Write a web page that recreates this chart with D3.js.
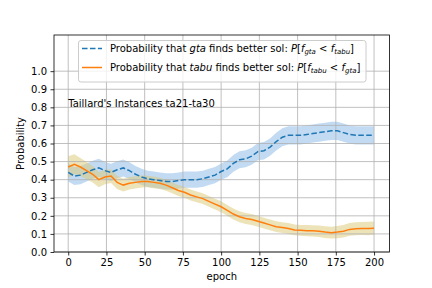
<!DOCTYPE html>
<html><head><meta charset="utf-8">
<script src="https://cdn.jsdelivr.net/npm/d3@7"></script>
<style>body{margin:0;background:#fff}svg{display:block;font-family:"DejaVu Sans",sans-serif}</style>
</head><body><div id="c"></div>
<script>
const epochs = [0,4,8,12,16,20,24,28,32,36,40,44,48,52,56,60,64,68,72,76,80,84,88,92,96,100,104,108,112,116,120,124,128,132,136,140,144,148,152,156,160,164,168,172,176,180,184,188,192,196,200];
const gtaMean = [0.44,0.42,0.425,0.44,0.455,0.465,0.45,0.44,0.455,0.465,0.45,0.43,0.415,0.405,0.40,0.395,0.39,0.39,0.395,0.40,0.40,0.40,0.405,0.415,0.425,0.445,0.46,0.49,0.51,0.515,0.53,0.555,0.56,0.58,0.61,0.635,0.645,0.645,0.645,0.65,0.655,0.66,0.665,0.67,0.67,0.66,0.65,0.645,0.645,0.645,0.645];
const gtaSpread = [0.05,0.05,0.05,0.05,0.05,0.05,0.048,0.048,0.047,0.047,0.046,0.045,0.045,0.045,0.045,0.045,0.045,0.045,0.045,0.045,0.045,0.045,0.045,0.045,0.045,0.045,0.046,0.046,0.047,0.047,0.047,0.048,0.048,0.048,0.049,0.05,0.05,0.05,0.05,0.05,0.05,0.05,0.05,0.05,0.05,0.05,0.05,0.05,0.05,0.05,0.05];
const tabuMean = [0.47,0.485,0.47,0.45,0.43,0.40,0.415,0.42,0.385,0.37,0.38,0.385,0.39,0.39,0.385,0.38,0.37,0.355,0.34,0.33,0.315,0.305,0.295,0.28,0.265,0.25,0.23,0.21,0.195,0.185,0.18,0.17,0.16,0.15,0.14,0.135,0.13,0.122,0.12,0.118,0.117,0.115,0.11,0.107,0.11,0.115,0.125,0.128,0.13,0.13,0.132];
const tabuSpread = [0.06,0.055,0.05,0.048,0.045,0.042,0.04,0.038,0.036,0.035,0.035,0.034,0.033,0.032,0.032,0.031,0.031,0.03,0.03,0.03,0.03,0.03,0.03,0.03,0.03,0.03,0.03,0.03,0.03,0.03,0.03,0.03,0.03,0.03,0.03,0.03,0.03,0.03,0.03,0.031,0.031,0.032,0.032,0.033,0.034,0.035,0.035,0.036,0.036,0.037,0.037];
const xTicks = [0,25,50,75,100,125,150,175,200];
const yTicks = [0,0.1,0.2,0.3,0.4,0.5,0.6,0.7,0.8,0.9,1.0];

const W=432,H=288;
const L=54,R=389.5,T=35,B=252;
const svg=d3.select("#c").append("svg").attr("width",W).attr("height",H);
const x=d3.scaleLinear().domain([-9.3,210.1]).range([L,R]);
const y=d3.scaleLinear().domain([0,1.2]).range([B,T]);

const dg=epochs.map((e,i)=>({e,m:gtaMean[i],s:gtaSpread[i]}));
const dt=epochs.map((e,i)=>({e,m:tabuMean[i],s:tabuSpread[i]}));
const area=d3.area().x(d=>x(d.e)).y0(d=>y(d.m-d.s)).y1(d=>y(d.m+d.s));
const line=d3.line().x(d=>x(d.e)).y(d=>y(d.m));

svg.append("path").datum(dg).attr("d",area).attr("fill","#8fbdea").attr("opacity",0.55);
svg.append("path").datum(dt).attr("d",area).attr("fill","#dcc874").attr("opacity",0.5);

// grid
const g=svg.append("g");
g.selectAll(".gx").data(xTicks).join("line").attr("x1",d=>x(d)).attr("x2",d=>x(d)).attr("y1",T).attr("y2",B).attr("stroke","#b0b0b0").attr("stroke-width",0.8);
g.selectAll(".gy").data(yTicks).join("line").attr("y1",d=>y(d)).attr("y2",d=>y(d)).attr("x1",L).attr("x2",R).attr("stroke","#b0b0b0").attr("stroke-width",0.8);

svg.append("path").datum(dg).attr("d",line).attr("fill","none").attr("stroke","#1f77b4").attr("stroke-width",1.5).attr("stroke-dasharray","5.55,2.4");
svg.append("path").datum(dt).attr("d",line).attr("fill","none").attr("stroke","#ff7f0e").attr("stroke-width",1.5);

// axes
const xa=svg.append("g").attr("transform",`translate(0,${B})`).call(d3.axisBottom(x).tickValues(xTicks).tickSize(3.5).tickPadding(3.5).tickFormat(d3.format("d")));
const ya=svg.append("g").attr("transform",`translate(${L},0)`).call(d3.axisLeft(y).tickValues(yTicks).tickSize(3.5).tickPadding(3.5).tickFormat(d3.format(".1f")));
[xa,ya].forEach(a=>{a.select(".domain").remove();a.selectAll("text").attr("font-size",10).attr("fill","#000").attr("font-family","DejaVu Sans");a.selectAll("line").attr("stroke","#000").attr("stroke-width",0.8);});
svg.append("rect").attr("x",L).attr("y",T).attr("width",R-L).attr("height",B-T).attr("fill","none").attr("stroke","#000").attr("stroke-width",0.8);

svg.append("text").attr("x",(L+R)/2).attr("y",280).attr("text-anchor","middle").attr("font-size",10).text("epoch");
svg.append("text").attr("transform",`translate(24,${(T+B)/2}) rotate(-90)`).attr("text-anchor","middle").attr("font-size",10).text("Probability");

svg.append("text").attr("x",x(0)).attr("y",y(0.80)).attr("font-size",10).attr("fill","#000").text("Taillard's Instances ta21-ta30");

// legend
const lg=svg.append("g");
lg.append("rect").attr("x",78.5).attr("y",40.5).attr("width",287.5).attr("height",41.5).attr("rx",2.5).attr("fill","#fff").attr("fill-opacity",0.8).attr("stroke","#cccccc").attr("stroke-width",1);
lg.append("line").attr("x1",82).attr("x2",102).attr("y1",48.5).attr("y2",48.5).attr("stroke","#1f77b4").attr("stroke-width",1.5).attr("stroke-dasharray","5.55,2.4");
lg.append("line").attr("x1",82).attr("x2",102).attr("y1",67.5).attr("y2",67.5).attr("stroke","#ff7f0e").attr("stroke-width",1.5);
function label(yy,a,b,c){
  const t=lg.append("text").attr("x",110).attr("y",yy).attr("font-size",10).attr("fill","#000");
  t.append("tspan").text("Probability that ");
  t.append("tspan").attr("font-style","italic").text(a);
  t.append("tspan").text(" finds better sol: ");
  t.append("tspan").attr("font-style","italic").text("P");
  t.append("tspan").text("[");
  t.append("tspan").attr("font-style","italic").text("f");
  t.append("tspan").attr("font-style","italic").attr("font-size",7).attr("dy",2).text(b);
  t.append("tspan").attr("dy",-2).text(" < ");
  t.append("tspan").attr("font-style","italic").text("f");
  t.append("tspan").attr("font-style","italic").attr("font-size",7).attr("dy",2).text(c);
  t.append("tspan").attr("dy",-2).text("]");
}
label(52,"gta","gta","tabu");
label(71,"tabu","tabu","gta");
</script></body></html>
